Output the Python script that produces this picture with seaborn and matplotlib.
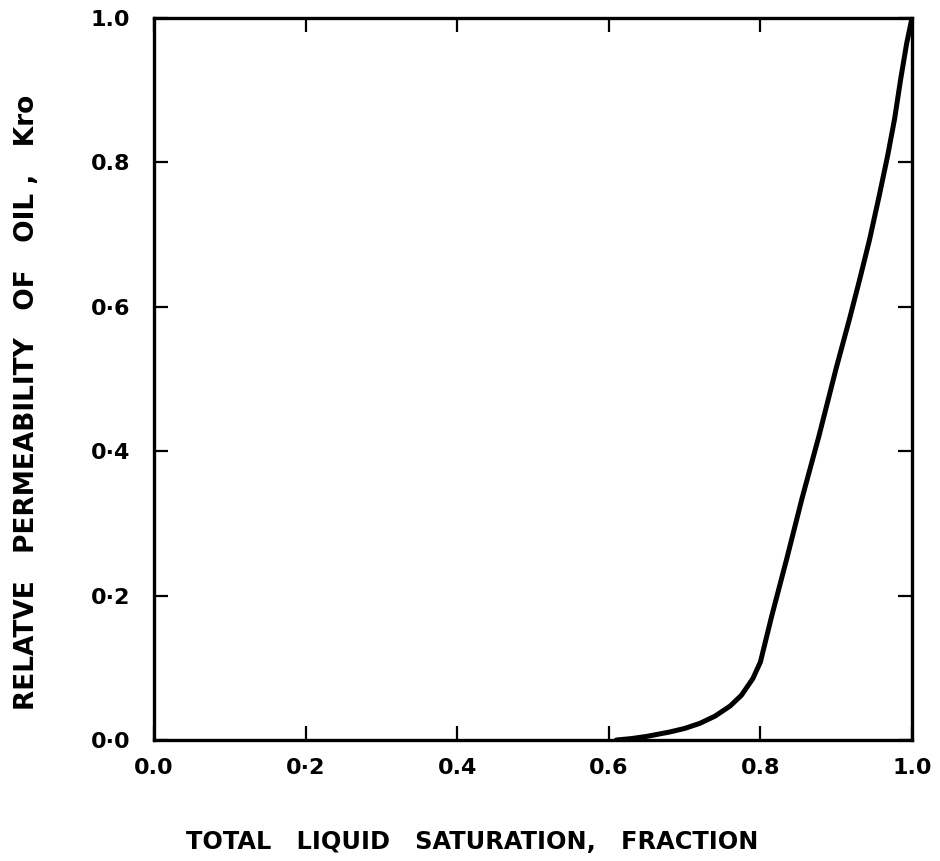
import matplotlib
matplotlib.use("Agg")
import matplotlib.pyplot as plt
import seaborn as sns
import pandas as pd

# Oil relative permeability versus total liquid saturation
saturation = [0.61, 0.63, 0.65, 0.68, 0.70, 0.72, 0.74, 0.76, 0.775, 0.79, 0.80,
              0.815, 0.835, 0.855, 0.877, 0.90, 0.918, 0.931, 0.944, 0.957,
              0.968, 0.977, 0.985, 0.993, 1.0]
kro = [0.0, 0.002, 0.005, 0.011, 0.016, 0.023, 0.033, 0.047, 0.062, 0.085, 0.108,
       0.172, 0.252, 0.335, 0.42, 0.515, 0.585, 0.638, 0.693, 0.755,
       0.810, 0.860, 0.915, 0.965, 1.0]

x_ticks = [0.0, 0.2, 0.4, 0.6, 0.8, 1.0]
x_tick_labels = ["0.0", "0·2", "0.4", "0.6", "0.8", "1.0"]
y_ticks = [0.0, 0.2, 0.4, 0.6, 0.8, 1.0]
y_tick_labels = ["0·0", "0·2", "0·4", "0·6", "0.8", "1.0"]

df = pd.DataFrame({"Sl": saturation, "Kro": kro})

sns.set_theme(style="white")
plt.rcParams["font.family"] = ["DejaVu Sans"]

fig = plt.figure(figsize=(9.4, 8.61), dpi=100)
ax = fig.add_axes([154 / 940, 1 - 740 / 861, (912 - 154) / 940, (740 - 18) / 861])

sns.lineplot(data=df, x="Sl", y="Kro", ax=ax, color="black", linewidth=3.6,
             estimator=None, sort=False)

ax.set_xlim(0, 1)
ax.set_ylim(0, 1)
ax.set_xticks(x_ticks)
ax.set_xticklabels(x_tick_labels, fontweight="bold")
ax.set_yticks(y_ticks)
ax.set_yticklabels(y_tick_labels, fontweight="bold")

ax.tick_params(axis="both", which="both", direction="in", length=10, width=1.6,
               color="black", labelcolor="black", labelsize=16,
               top=True, right=True, bottom=True, left=True)
ax.tick_params(axis="x", pad=13)
ax.tick_params(axis="y", pad=17)

for side in ["left", "right", "top", "bottom"]:
    ax.spines[side].set_visible(True)
    ax.spines[side].set_color("black")
    ax.spines[side].set_linewidth(2.4)

ax.set_xlabel("TOTAL   LIQUID   SATURATION,   FRACTION", fontsize=17.3,
              fontweight="bold", color="black")
ax.set_ylabel("RELATVE   PERMEABILITY   OF   OIL ,   Kro", fontsize=19,
              fontweight="bold", color="black")
ax.xaxis.label.set_va("center")
ax.yaxis.label.set_va("center")
ax.xaxis.set_label_coords(0.42, -0.141)
ax.yaxis.set_label_coords(-0.167, 0.467)

ax.grid(False)
fig.savefig("out.png", dpi=100, facecolor="white")
